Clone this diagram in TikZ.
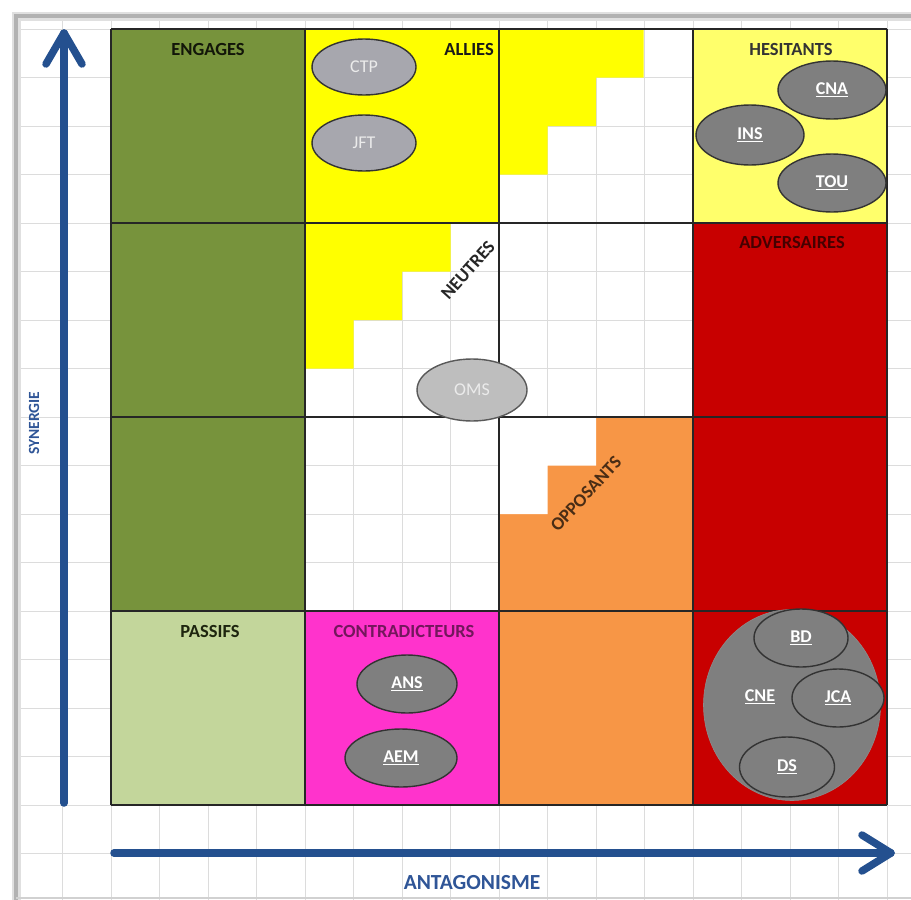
\documentclass[tikz,border=0pt]{standalone}
\usepackage{fontspec}
\setmainfont{Carlito}
\usetikzlibrary{shapes.geometric}

\definecolor{cOlive}{HTML}{77933C}
\definecolor{cPale}{HTML}{C3D69B}
\definecolor{cYellow}{HTML}{FFFF00}
\definecolor{cSoftYellow}{HTML}{FFFF6B}
\definecolor{cRed}{HTML}{C80000}
\definecolor{cMagenta}{HTML}{FF33CC}
\definecolor{cOrange}{HTML}{F79646}
\definecolor{cAxis}{HTML}{24508F}
\definecolor{cAxisText}{HTML}{2F5597}
\definecolor{cSheet}{HTML}{DCDCDC}
\definecolor{cDarkGrey}{HTML}{7F7F7F}
\definecolor{cMidGrey}{HTML}{A7A7AE}
\definecolor{cLightGrey}{HTML}{BEBEBE}

% underlined label for the entity bubbles
\newcommand{\ulabel}[1]{\setbox0=\hbox{#1}\rlap{\rule[-3pt]{\wd0}{1.5pt}}\box0}

\begin{document}
\begin{tikzpicture}[x=1pt,y=-1pt,
  sheetline/.style={cSheet, line width=0.8pt},
  cellrule/.style={black!85, line width=1.6pt},
  axisline/.style={cAxis, line width=7.5pt, line cap=round, line join=round},
  axislabel/.style={text=cAxisText, font=\bfseries\fontsize{15.5}{15.5}\selectfont, inner sep=0},
  zone/.style={font=\bfseries\fontsize{18.5}{18.5}\selectfont, inner sep=0},
  entity/.style={ellipse, draw=black!80, line width=1.4pt, fill=cDarkGrey, inner sep=0,
    text=white, font=\bfseries\fontsize{18}{18}\selectfont},
  softentity/.style={entity, fill=cMidGrey, text=black!8, font=\fontsize{18}{18}\selectfont}
]
\useasboundingbox (0,0) rectangle (911,900);
\fill[white] (0,0) rectangle (911,900);

% spreadsheet grid
\draw[sheetline] (62.5,19) -- (62.5,900);
\foreach \i in {0,...,16} { \draw[sheetline] ({111+48.5*\i},19) -- ({111+48.5*\i},900); }
\foreach \j in {0,...,17} { \draw[sheetline] (19,{29+48.5*\j}) -- (911,{29+48.5*\j}); }

% sheet frame shadow
\draw[black!12, line width=9pt] (16,900) |- (911,16);
\draw[black!30, line width=3.5pt] (16,900) |- (911,16);
\draw[black!18, line width=2pt] (16,897.5) -- (911,897.5);

% zone fills
\fill[cOlive] (111,29) rectangle (305,611);
\fill[cPale] (111,611) rectangle (305,805);
\fill[cYellow] (305,29) rectangle (499,223);
\fill[cYellow] (499,29) -- (643.5,29) -- (643.5,77.5) -- (596,77.5) -- (596,126)
  -- (547.5,126) -- (547.5,174.5) -- (499,174.5) -- cycle;
\fill[cSoftYellow] (693,29) rectangle (887,223);
\fill[cYellow] (305,223) -- (450.5,223) -- (450.5,271.5) -- (402,271.5) -- (402,320)
  -- (353.5,320) -- (353.5,368.5) -- (305,368.5) -- cycle;
\fill[cRed] (693,223) rectangle (887,805);
\fill[cOrange] (499,417) rectangle (693,805);
\fill[white] (499,417) -- (596,417) -- (596,465.5) -- (547.5,465.5) -- (547.5,514)
  -- (499,514) -- cycle;
\fill[cMagenta] (305,611) rectangle (499,805);

% cell borders
\foreach \x in {111,305,499,693,887} { \draw[cellrule] (\x,29) -- (\x,805); }
\foreach \y in {29,223,417,611,805} { \draw[cellrule] (111,\y) -- (887,\y); }

% axes
\coordinate (synBase) at (64,803);
\coordinate (synTip) at (64,33);
\coordinate (synBarbL) at (46,64);
\coordinate (synBarbR) at (82,64);
\draw[axisline] (synBase) -- (synTip);
\draw[axisline] (synBarbL) -- (synTip) -- (synBarbR);
\coordinate (antBase) at (114,853);
\coordinate (antTip) at (891,853);
\coordinate (antBarbU) at (862,835);
\coordinate (antBarbD) at (862,871);
\draw[axisline] (antBase) -- (antTip);
\draw[axisline] (antBarbU) -- (antTip) -- (antBarbD);
\node[axislabel, rotate=90] (synLabel) at (34,423) {SYNERGIE};
\node[axislabel, font=\bfseries\fontsize{21.5}{21.5}\selectfont, anchor=base] (antLabel) at (472,889) {ANTAGONISME};

% zone titles
\node[zone, text=black!85!cOlive, anchor=base] (engages) at (208,55) {ENGAGES};
\node[zone, text=black!90, anchor=base east] (allies) at (494,55) {ALLIES};
\node[zone, text=black!80, anchor=base] (hesitants) at (791,55) {HESITANTS};
\node[zone, text=black!65!cRed, anchor=base] (adversaires) at (792,248) {ADVERSAIRES};
\node[zone, text=black!85, rotate=48] (neutres) at (468,270) {NEUTRES};
\node[zone, text=black!70!cOrange, rotate=47] (opposants) at (586,494) {OPPOSANTS};
\node[zone, text=black!75!cOlive, anchor=base] (passifs) at (210,637) {PASSIFS};
\node[zone, text=black!55!cMagenta, anchor=base] (contradicteurs) at (404,637) {CONTRADICTEURS};

% entities
\node[softentity, minimum width=104pt, minimum height=56pt] (ctp) at (364,67) {CTP};
\node[softentity, minimum width=104pt, minimum height=56pt] (jft) at (364,143) {JFT};
\node[softentity, fill=cLightGrey, draw=black!65, minimum width=110pt, minimum height=62pt] (oms) at (472,390) {OMS};
\node[entity, minimum width=108pt, minimum height=58pt] (cna) at (832,90) {\ulabel{CNA}};
\node[entity, minimum width=108pt, minimum height=60pt] (ins) at (750,135) {\ulabel{INS}};
\node[entity, minimum width=108pt, minimum height=58pt] (tou) at (832,183) {\ulabel{TOU}};
\node[entity, minimum width=100pt, minimum height=58pt] (ans) at (407,684) {\ulabel{ANS}};
\node[entity, minimum width=112pt, minimum height=58pt] (aem) at (401,758) {\ulabel{AEM}};
\node[entity, draw=black!45, line width=0.6pt, minimum width=177pt, minimum height=191pt] (cne) at (792,705) {};
\node[entity, draw=none, fill=none] (cneLabel) at (760,697) {\ulabel{CNE}};
\node[entity, minimum width=94pt, minimum height=58pt] (bd) at (801,638) {\ulabel{BD}};
\node[entity, minimum width=92pt, minimum height=58pt] (jca) at (838,698) {\ulabel{JCA}};
\node[entity, minimum width=95pt, minimum height=60pt] (ds) at (787,767) {\ulabel{DS}};
\end{tikzpicture}
\end{document}
